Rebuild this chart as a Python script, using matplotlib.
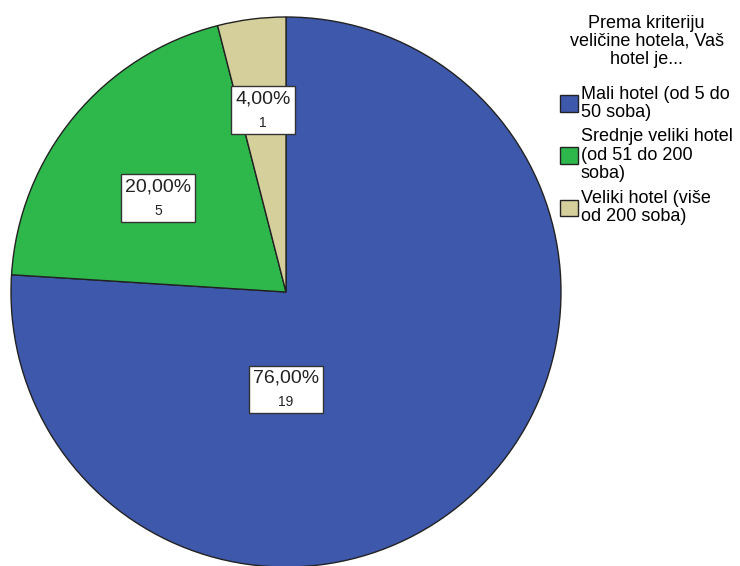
import matplotlib
matplotlib.use('Agg')
import matplotlib.pyplot as plt
from matplotlib.offsetbox import TextArea, VPacker, AnnotationBbox

plt.rcParams['font.family'] = ['Liberation Sans', 'DejaVu Sans']

# data
categories = ['Mali hotel (od 5 do\n50 soba)',
              'Srednje veliki hotel\n(od 51 do 200\nsoba)',
              'Veliki hotel (više\nod 200 soba)']
counts = [19, 5, 1]
percents = ['76,00%', '20,00%', '4,00%']
legend_title = 'Prema kriteriju\nveličine hotela, Vaš\nhotel je...'

colors = ['#3E58AC', '#2EB84B', '#D5CF9C']
# label box centres (pie radius = 1)
label_pos = [(0.0, -0.355), (-0.465, 0.342), (-0.084, 0.662)]

fig = plt.figure(figsize=(7.4, 5.66), dpi=100)
ax = fig.add_axes([11/740, -1/566, 550/740, 550/566])

wedges, _ = ax.pie(counts, colors=colors, startangle=90, counterclock=False,
                   radius=1.0,
                   wedgeprops=dict(edgecolor='#222222', linewidth=1.0))
ax.set_xlim(-1.0, 1.0)
ax.set_ylim(-1.0, 1.0)
ax.set_aspect('equal')
ax.axis('off')

for pct, n, pos in zip(percents, counts, label_pos):
    t1 = TextArea(pct, textprops=dict(fontsize=14, color='#222222'))
    t2 = TextArea(str(n), textprops=dict(fontsize=10, color='#222222'))
    box = VPacker(children=[t1, t2], align='center', pad=0, sep=6)
    ab = AnnotationBbox(box, pos, xycoords='data', frameon=True, pad=0.3,
                        bboxprops=dict(facecolor='white', edgecolor='#333333',
                                       linewidth=1.0, boxstyle='square,pad=0.3'))
    ax.add_artist(ab)

leg = fig.legend(wedges, categories, title=legend_title,
                 loc='upper left', bbox_to_anchor=(553/740, 1 - 8/566),
                 frameon=False, fontsize=13, title_fontsize=13,
                 handlelength=1.0, handleheight=1.0, handletextpad=0.15,
                 labelspacing=0.42, borderaxespad=0)
leg.get_title().set_multialignment('center')
leg.get_title().set_linespacing(1.05)
for t in leg.get_texts():
    t.set_linespacing(1.1)
for h in leg.legend_handles:
    h.set_edgecolor('#222222')
    h.set_linewidth(1.0)
# a bit more room between the title and the entries
leg._legend_box.sep = 13

fig.savefig('out.png', dpi=100)
